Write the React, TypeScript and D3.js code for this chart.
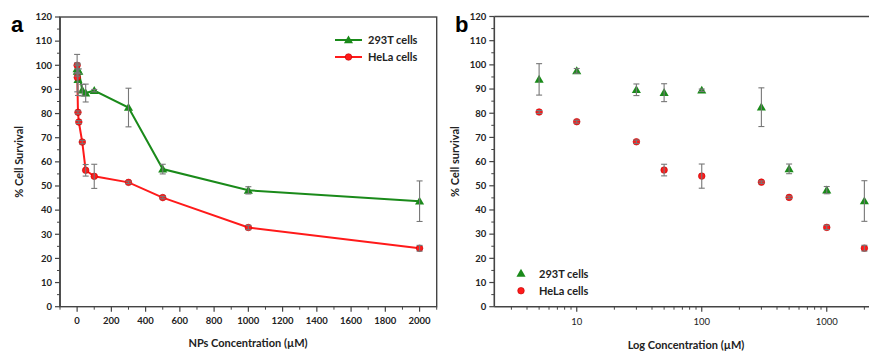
import React from "react";
import * as d3 from "d3";

// ---- data ----
const concA = [0, 1, 5, 10, 30, 50, 100, 300, 500, 1000, 2000];
const t293A = [98.5, 97.5, 94, 97.5, 89.7, 88.5, 89.5, 82.5, 57, 48.2, 43.7];
const t293ErrA = [1.5, 1.0, 6.5, 1.0, 2.4, 3.7, 0.5, 8.0, 2.0, 1.5, 8.4];
const helaA = [100, 95, 80.5, 76.5, 68.2, 56.5, 54, 51.5, 45.2, 32.8, 24.2];
const helaErrA = [4.5, 6.0, 0.6, 0.6, 0.7, 2.4, 5.0, 0.5, 0.5, 0.9, 1.2];

const concB = [5, 10, 30, 50, 100, 300, 500, 1000, 2000];
const t293B = [94, 97.5, 89.7, 88.5, 89.5, 82.5, 57, 48.2, 43.7];
const t293ErrB = [6.5, 1.0, 2.4, 3.7, 0.5, 8.0, 2.0, 1.5, 8.4];
const helaB = [80.5, 76.5, 68.2, 56.5, 54, 51.5, 45.2, 32.8, 24.2];
const helaErrB = [0.6, 0.6, 0.7, 2.4, 5.0, 0.5, 0.5, 0.9, 1.2];

const yTicks = [0, 10, 20, 30, 40, 50, 60, 70, 80, 90, 100, 110, 120];
const xTicksA = [0, 200, 400, 600, 800, 1000, 1200, 1400, 1600, 1800, 2000];
const xTicksB = [10, 100, 1000];
const seriesNames = ["293T cells", "HeLa cells"];

const GREEN = "#1a8a1a";
const RED = "#ff1a1a";
const AXIS = "#444";
const ERR = "#777";
const FONT = "Lato, 'Open Sans', sans-serif";

const tri = d3.symbol().type(d3.symbolTriangle).size(36)();

function Triangle({ x, y }: { x: number; y: number }) {
  return <path d={tri as string} transform={`translate(${x},${y + 0.7})`} fill={GREEN} />;
}
function Dot({ x, y }: { x: number; y: number }) {
  return <circle cx={x} cy={y} r={3.3} fill={RED} stroke="#c00000" strokeWidth={0.6} />;
}
function ErrBar({ x, y0, y1 }: { x: number; y0: number; y1: number }) {
  return (
    <g stroke={ERR} strokeWidth={1.1}>
      <line x1={x} x2={x} y1={y0} y2={y1} />
      <line x1={x - 3} x2={x + 3} y1={y0} y2={y0} />
      <line x1={x - 3} x2={x + 3} y1={y1} y2={y1} />
    </g>
  );
}

function YAxis({ x, y, top, bottom }: any) {
  const minor = d3.range(0, 121, 5).filter((v) => v % 10 !== 0);
  return (
    <g>
      <line x1={x} x2={x} y1={top} y2={bottom} stroke={AXIS} strokeWidth={1.6} />
      {yTicks.map((v) => (
        <g key={v}>
          <line x1={x - 5} x2={x} y1={y(v)} y2={y(v)} stroke={AXIS} strokeWidth={1.2} />
          <text x={x - 8} y={y(v) + 3.3} textAnchor="end" fontSize={9.5} fontWeight="bold" fill="#222" fontFamily={FONT}>
            {v}
          </text>
        </g>
      ))}
      {minor.map((v) => (
        <line key={v} x1={x - 3} x2={x} y1={y(v)} y2={y(v)} stroke={AXIS} strokeWidth={1} />
      ))}
    </g>
  );
}

export default function App() {
  const top = 17;
  const bottom = 306.7;
  // Panel A
  const xa = d3.scaleLinear().domain([-100, 2100]).range([60, 436.7]);
  const ya = d3.scaleLinear().domain([0, 120]).range([bottom, top]);
  // Panel B
  const xb = d3.scaleLog().domain([2.19, 2500]).range([494.3, 494.3 + 125 * Math.log10(2500 / 2.19)]);
  const yb = d3.scaleLinear().domain([0, 120]).range([bottom, 16.5]);

  const lineA = d3
    .line<number>()
    .x((_, i) => xa(concA[i]))
    .y((d) => ya(d));

  const minorA = d3.range(-100, 2101, 100).filter((v) => v % 200 !== 0);
  const minorB: number[] = [];
  [1, 10, 100, 1000].forEach((dec) => {
    for (let k = 2; k <= 9; k++) {
      const v = dec * k;
      if (v > 2.19 && v < 2500) minorB.push(v);
    }
  });

  return (
    <svg width={869} height={353} style={{ position: "absolute", left: 0, top: 0 }} fontFamily={FONT}>
      <rect width={869} height={353} fill="#fff" />
      {/* ===== Panel A ===== */}
      <text x={11} y={31.7} fontSize={22} fontWeight="bold" fontFamily="'Liberation Sans', Arial, sans-serif">
        a
      </text>
      <rect x={60} y={top} width={436.7 - 60} height={bottom - top} fill="none" stroke={AXIS} strokeWidth={1.4} />
      <YAxis x={60} y={ya} top={top} bottom={bottom} />
      {xTicksA.map((v) => (
        <g key={v}>
          <line x1={xa(v)} x2={xa(v)} y1={bottom} y2={bottom + 5} stroke={AXIS} strokeWidth={1.2} />
          <text x={xa(v)} y={bottom + 17} textAnchor="middle" fontSize={9.5} fontWeight="bold" fill="#222">
            {v}
          </text>
        </g>
      ))}
      {minorA.map((v) => (
        <line key={v} x1={xa(v)} x2={xa(v)} y1={bottom} y2={bottom + 3} stroke={AXIS} strokeWidth={1} />
      ))}
      <text x={248} y={347} textAnchor="middle" fontSize={11} fontWeight="bold" fill="#222">
        NPs Concentration (µM)
      </text>
      <text transform={`translate(23,${(top + bottom) / 2}) rotate(-90)`} textAnchor="middle" fontSize={11} fontWeight="bold" fill="#222">
        % Cell Survival
      </text>
      <path d={lineA(t293A) as string} fill="none" stroke={GREEN} strokeWidth={2} />
      <path d={lineA(helaA) as string} fill="none" stroke={RED} strokeWidth={2} />
      {concA.map((c, i) => (
        <Triangle key={"gt" + i} x={xa(c)} y={ya(t293A[i])} />
      ))}
      {concA.map((c, i) => (
        <Dot key={"rd" + i} x={xa(c)} y={ya(helaA[i])} />
      ))}
      {/* error bars A */}
      {concA.map((c, i) => (
        <ErrBar key={"ge" + i} x={xa(c)} y0={ya(t293A[i] + t293ErrA[i])} y1={ya(t293A[i] - t293ErrA[i])} />
      ))}
      {concA.map((c, i) => (
        <ErrBar key={"re" + i} x={xa(c)} y0={ya(helaA[i] + helaErrA[i])} y1={ya(helaA[i] - helaErrA[i])} />
      ))}
      {/* legend A */}
      <line x1={335} x2={362} y1={40} y2={40} stroke={GREEN} strokeWidth={2} />
      <Triangle x={348.5} y={40} />
      <text x={368} y={44} fontSize={11} fontWeight="bold" fill="#222">
        {seriesNames[0]}
      </text>
      <line x1={335} x2={362} y1={57} y2={57} stroke={RED} strokeWidth={2} />
      <Dot x={348.5} y={57} />
      <text x={368} y={61} fontSize={11} fontWeight="bold" fill="#222">
        {seriesNames[1]}
      </text>

      {/* ===== Panel B ===== */}
      <text x={455} y={32.3} fontSize={22} fontWeight="bold" fontFamily="'Liberation Sans', Arial, sans-serif">
        b
      </text>
      <line x1={494.3} x2={869} y1={16.5} y2={16.5} stroke={AXIS} strokeWidth={1.4} />
      <line x1={494.3} x2={869} y1={bottom} y2={bottom} stroke={AXIS} strokeWidth={1.6} />
      <YAxis x={494.3} y={yb} top={16.5} bottom={bottom} />
      {xTicksB.map((v) => (
        <g key={v}>
          <line x1={xb(v)} x2={xb(v)} y1={bottom} y2={bottom + 5} stroke={AXIS} strokeWidth={1.2} />
          <text x={xb(v)} y={bottom + 18} textAnchor="middle" fontSize={9.5} fill="#222">
            {v}
          </text>
        </g>
      ))}
      {minorB.map((v) => (
        <line key={v} x1={xb(v)} x2={xb(v)} y1={bottom} y2={bottom + 3} stroke={AXIS} strokeWidth={1} />
      ))}
      <text x={686} y={349} textAnchor="middle" fontSize={11} fontWeight="bold" fill="#222">
        Log Concentration (µM)
      </text>
      <text transform={`translate(459,${(16.5 + bottom) / 2}) rotate(-90)`} textAnchor="middle" fontSize={11} fontWeight="bold" fill="#222">
        % Cell survival
      </text>
      {concB.map((c, i) => (
        <Triangle key={"gbt" + i} x={xb(c)} y={yb(t293B[i])} />
      ))}
      {concB.map((c, i) => (
        <Dot key={"rbd" + i} x={xb(c)} y={yb(helaB[i])} />
      ))}
      {concB.map((c, i) => (
        <ErrBar key={"gbe" + i} x={xb(c)} y0={yb(t293B[i] + t293ErrB[i])} y1={yb(t293B[i] - t293ErrB[i])} />
      ))}
      {concB.map((c, i) => (
        <ErrBar key={"rbe" + i} x={xb(c)} y0={yb(helaB[i] + helaErrB[i])} y1={yb(helaB[i] - helaErrB[i])} />
      ))}
      {/* legend B */}
      <Triangle x={521} y={273.3} />
      <text x={539} y={277.5} fontSize={11} fontWeight="bold" fill="#222">
        {seriesNames[0]}
      </text>
      <Dot x={521} y={290.7} />
      <text x={539} y={295} fontSize={11} fontWeight="bold" fill="#222">
        {seriesNames[1]}
      </text>
    </svg>
  );
}
